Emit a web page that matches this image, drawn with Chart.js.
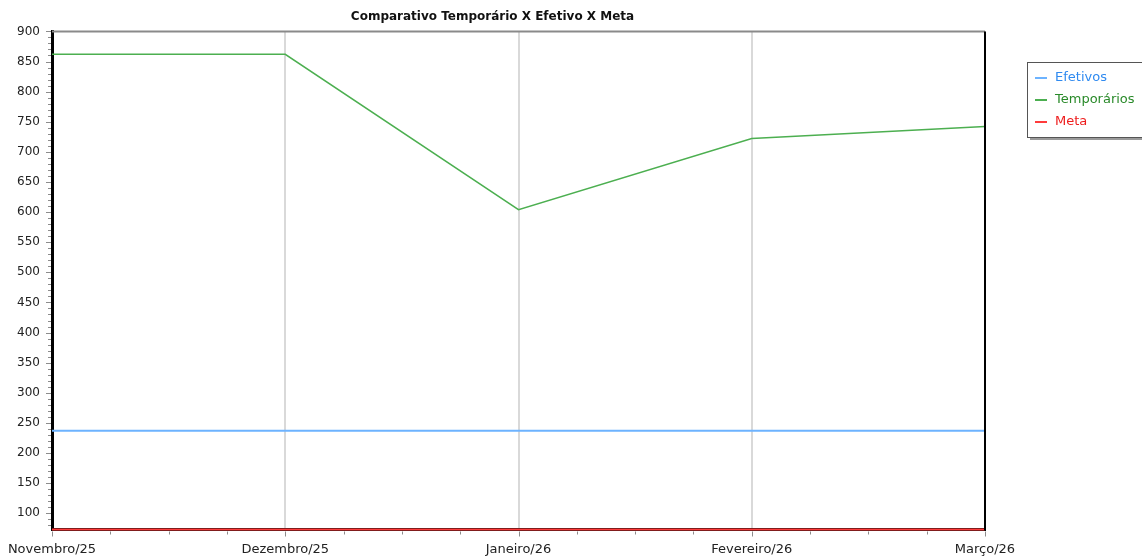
<!DOCTYPE html>
<html>
<head>
<meta charset="utf-8">
<script src="https://cdn.jsdelivr.net/npm/chart.js@4"></script>
<style>
  html, body { margin: 0; padding: 0; background: #fff; }
  #wrap { width: 1142px; height: 557px; }
</style>
</head>
<body>
<div id="wrap"><canvas id="chart" width="1142" height="557"></canvas></div>
<script>
// dados
const meses = ['Novembro/25', 'Dezembro/25', 'Janeiro/26', 'Fevereiro/26', 'Março/26'];
const efetivos = [237, 237, 237, 237, 237];
const temporarios = [862, 862, 604, 722, 742];
const meta = [73, 73, 73, 73, 73];
const yTicks = [100, 150, 200, 250, 300, 350, 400, 450, 500, 550, 600, 650, 700, 750, 800, 850, 900];
const yMin = 73, yMax = 900;

const fonte = '"DejaVu Sans", Verdana, sans-serif';
const cores = {
    efetivos: '#6db3ff', temporarios: '#4caf50', meta: '#ff3b3b'
};
const coresTexto = {
    efetivos: '#2f8af0', temporarios: '#2a8a2a', meta: '#ee1c1c'
};

// bordas, marcas menores e legenda desenhadas a mao
const extras = {
    id: 'extras',
    afterDraw(chart) {
        const ctx = chart.ctx;
        const a = chart.chartArea;
        const y = chart.scales.y;
        const x = chart.scales.x;
        ctx.save();
        // borda de cima (cinza) e da direita (preta)
        ctx.strokeStyle = '#8a8a8a';
        ctx.lineWidth = 2;
        ctx.beginPath(); ctx.moveTo(a.left, a.top); ctx.lineTo(a.right, a.top); ctx.stroke();
        ctx.strokeStyle = '#000';
        ctx.lineWidth = 2;
        ctx.beginPath(); ctx.moveTo(a.right, a.top); ctx.lineTo(a.right, a.bottom + 1); ctx.stroke();
        // marcas menores no eixo y (a cada 10)
        ctx.strokeStyle = '#8c8c8c';
        ctx.lineWidth = 1;
        for (let v = Math.ceil(yMin / 10) * 10; v <= yMax; v += 10) {
            const py = Math.round(y.getPixelForValue(v)) + 0.5;
            ctx.beginPath();
            ctx.moveTo(a.left - (v % 50 === 0 ? 6 : 4), py);
            ctx.lineTo(a.left - 1, py);
            ctx.stroke();
        }
        // marcas menores no eixo x
        for (let i = 0; i < meses.length; i++) {
            for (let q = 0; q < 4; q++) {
                if (i === meses.length - 1 && q > 0) break;
                const px = Math.round(x.getPixelForValue(i + q / 4)) + 0.5;
                ctx.beginPath();
                ctx.moveTo(px, a.bottom + 2);
                ctx.lineTo(px, a.bottom + (q === 0 ? 7 : 5));
                ctx.stroke();
            }
        }
        // legenda
        const lx = 1027, ly = 62, lw = 130, lh = 75;
        ctx.fillStyle = '#9a9a9a';
        ctx.fillRect(lx + 3, ly + 3, lw, lh);
        ctx.fillStyle = '#fff';
        ctx.fillRect(lx, ly, lw, lh);
        ctx.strokeStyle = '#555';
        ctx.lineWidth = 1;
        ctx.strokeRect(lx + 0.5, ly + 0.5, lw, lh);
        const itens = [
            ['Efetivos', cores.efetivos, coresTexto.efetivos],
            ['Temporários', cores.temporarios, coresTexto.temporarios],
            ['Meta', cores.meta, coresTexto.meta]
        ];
        ctx.font = '13px ' + fonte;
        ctx.textBaseline = 'middle';
        itens.forEach(function(it, k) {
            const iy = ly + 16 + k * 22;
            ctx.strokeStyle = it[1];
            ctx.lineWidth = 2;
            ctx.beginPath(); ctx.moveTo(lx + 8, iy); ctx.lineTo(lx + 20, iy); ctx.stroke();
            ctx.fillStyle = it[2];
            ctx.fillText(it[0], lx + 28, iy);
        });
        ctx.restore();
    }
};

const ctx = document.getElementById('chart').getContext('2d');
const chart = new Chart(ctx, {
    type: 'line',
    data: {
        labels: meses,
        datasets: [
            { label: 'Efetivos', data: efetivos, borderColor: cores.efetivos, borderWidth: 2 },
            { label: 'Temporários', data: temporarios, borderColor: cores.temporarios, borderWidth: 1.5 },
            { label: 'Meta', data: meta, borderColor: cores.meta, borderWidth: 2 }
        ]
    },
    options: {
        responsive: false,
        animation: false,
        clip: false,
        elements: {
            point: { radius: 0, hoverRadius: 0 },
            line: { tension: 0, fill: false }
        },
        layout: { padding: { left: 0, right: 157, top: 0, bottom: 0 } },
        plugins: {
            legend: { display: false },
            tooltip: { enabled: false },
            title: {
                display: true,
                text: 'Comparativo Temporário X Efetivo X Meta',
                color: '#111',
                font: { family: fonte, size: 12, weight: 'bold' },
                padding: { top: 10, bottom: 7 }
            }
        },
        scales: {
            x: {
                offset: false,
                afterFit: function(scale) {
                    scale.height = 27.5;
                    scale.paddingLeft = 0;
                    scale.paddingRight = 0;
                },
                grid: { color: '#d9d9d9', lineWidth: 2, drawTicks: false },
                border: { color: '#000', width: 3 },
                ticks: {
                    color: '#222',
                    padding: 12,
                    maxRotation: 0,
                    autoSkip: false,
                    font: { family: fonte, size: 13 }
                }
            },
            y: {
                min: yMin,
                max: yMax,
                afterBuildTicks: function(scale) {
                    scale.ticks = yTicks.map(function(v) { return { value: v }; });
                },
                afterFit: function(scale) { scale.width = 52; },
                grid: { display: false, drawTicks: false },
                border: { color: '#000', width: 3 },
                ticks: {
                    color: '#222',
                    padding: 12,
                    font: { family: fonte, size: 12 }
                }
            }
        }
    },
    plugins: [extras]
});
</script>
</body>
</html>
